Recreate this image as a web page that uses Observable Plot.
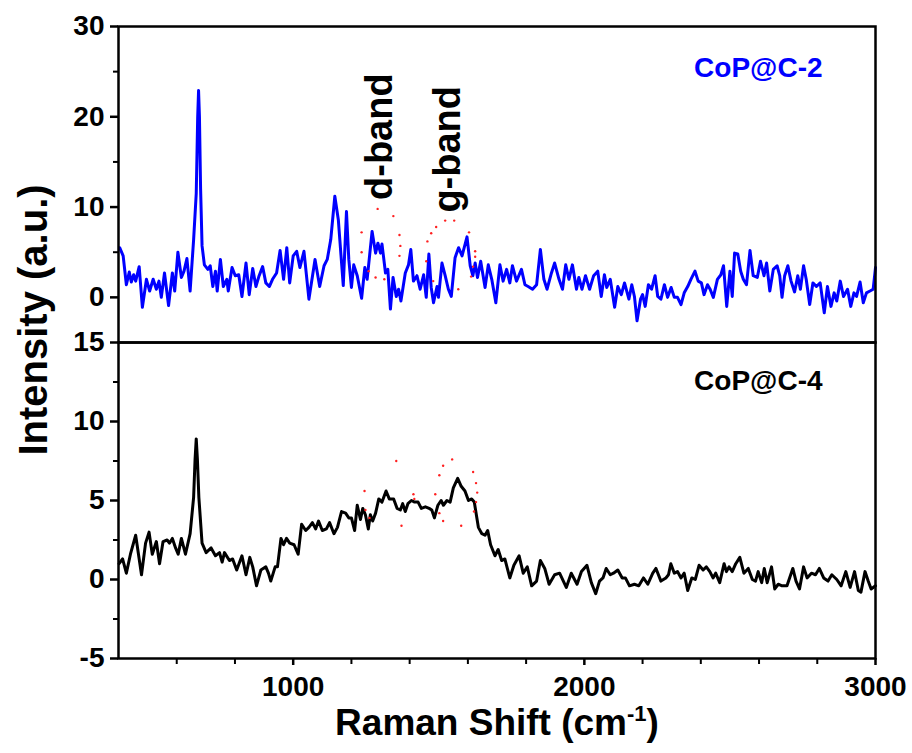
<!DOCTYPE html>
<html>
<head>
<meta charset="utf-8">
<script src="https://cdn.jsdelivr.net/npm/d3@7"></script>
<script src="https://cdn.jsdelivr.net/npm/@observablehq/plot@0.6"></script>
<style>
  html, body { margin: 0; padding: 0; background: white; }
  #wrap { position: relative; width: 912px; height: 753px; overflow: hidden; font-family: "Liberation Sans", Arial, sans-serif; }
  #wrap svg { position: absolute; left: 0; }
</style>
</head>
<body>
<div id="wrap"></div>
<script>
// ---------- Data ----------
const ramanShift2 = [404,416,427,437,444,452,459,471,482,496,507,519,530,539,547,558,572,585,593,604,616,625,635,646,658,667,672,675,678,682,687,695,707,715,724,733,739,750,760,772,777,790,801,813,824,838,849,861,872,883,895,906,918,929,943,955,967,978,988,1000,1012,1023,1037,1054,1075,1091,1106,1117,1129,1143,1155,1172,1183,1191,1200,1208,1220,1235,1246,1254,1271,1283,1291,1300,1305,1317,1325,1334,1343,1354,1362,1370,1385,1396,1404,1413,1425,1436,1448,1457,1466,1474,1482,1494,1499,1511,1522,1533,1543,1556,1568,1580,1597,1608,1617,1625,1633,1644,1659,1670,1682,1696,1710,1721,1733,1744,1753,1767,1784,1796,1807,1822,1836,1849,1861,1872,1887,1898,1913,1925,1936,1947,1959,1973,1981,1992,2004,2018,2032,2046,2058,2069,2077,2089,2104,2115,2127,2138,2153,2163,2172,2181,2193,2200,2209,2220,2231,2243,2252,2263,2275,2286,2298,2309,2320,2332,2343,2355,2366,2380,2391,2402,2411,2423,2432,2443,2457,2469,2478,2489,2500,2508,2516,2527,2537,2546,2557,2569,2580,2594,2605,2617,2626,2637,2649,2662,2671,2679,2688,2699,2710,2722,2733,2742,2753,2762,2774,2785,2797,2810,2824,2835,2847,2858,2867,2879,2890,2904,2915,2926,2935,2947,2958,2969,2981,2992,3000];
const intensity2 = [5.5,4.6,1.4,2.8,1.7,2.5,1.8,3.4,-1.1,2.0,0.7,2.0,0.9,1.8,0.0,2.7,-0.9,2.7,0.7,5.0,2.2,2.9,4.3,0.7,6.4,11.5,20,22.9,20,12,5.7,3.6,3.1,3.5,1.2,2.9,0.7,4.2,1.2,2.0,0.7,3.3,2.4,2.5,0.1,3.8,0.3,3.2,1.2,2.4,3.4,1.6,1.2,2.0,2.7,5.2,2.0,5.5,1.6,4.6,5.1,3.3,5.1,-0.2,4.2,1.2,3.5,4.2,6.4,11.2,8.6,1.3,9.5,4.2,1.1,3.6,2.4,-0.1,3.3,2.0,7.3,4.9,6.0,4.9,5.9,2.7,3.1,-1.3,2.2,0.1,0.9,-0.4,2.7,3.6,5.3,1.8,2.4,0.9,2.5,0.0,4.8,1.1,-0.6,1.2,0.0,3.8,2.4,0.9,0.1,4.4,5.5,4.6,6.7,3.5,2.4,3.8,2.2,4.0,1.1,3.6,2.0,-0.6,3.6,1.8,3.1,1.6,3.5,1.8,3.1,1.4,1.2,0.9,1.4,5.3,2.0,0.9,2.7,3.8,2.0,0.9,3.6,2.0,3.6,0.9,2.2,0.9,2.4,0.9,2.4,2.9,0.1,2.5,1.1,2.0,-1.1,1.2,0.3,1.6,-0.2,1.4,0.1,-2.6,-0.2,0.3,-1.0,1.4,0.9,2.4,0.1,-0.2,1.4,0.0,1.1,0.0,0.0,-0.8,0.5,1.2,2.0,2.9,1.8,1.6,0.3,1.4,0.9,0.0,2.0,2.5,3.5,-1.0,2.9,0.1,4.9,4.8,2.9,2.0,1.4,5.2,2.4,2.2,4.0,2.4,3.8,0.7,3.1,3.5,2.4,0.0,2.4,3.5,1.8,0.6,2.4,0.9,3.5,2.0,-0.8,1.6,1.2,1.6,-1.7,1.2,-1.0,0.5,-0.4,1.8,0.1,0.9,-1.0,0.5,0.1,1.7,-0.6,0.5,0.7,0.9,3.3];

const ramanShift4 = [402,414,427,441,459,479,493,505,516,530,541,553,567,575,585,596,605,616,630,646,658,663,667,671,676,687,701,718,733,747,756,764,781,792,806,824,838,851,861,874,889,906,915,923,938,946,958,967,977,988,1003,1017,1029,1043,1054,1066,1077,1087,1100,1114,1125,1140,1152,1166,1180,1191,1200,1211,1220,1231,1239,1248,1258,1265,1273,1283,1294,1305,1319,1330,1345,1357,1368,1376,1385,1394,1406,1417,1429,1440,1454,1467,1476,1485,1497,1508,1516,1528,1539,1550,1565,1577,1590,1602,1613,1622,1636,1648,1659,1668,1678,1693,1704,1716,1727,1744,1758,1776,1790,1804,1819,1836,1849,1864,1879,1898,1915,1938,1955,1975,1990,2009,2024,2039,2052,2064,2075,2089,2100,2115,2130,2141,2155,2172,2187,2203,2218,2235,2246,2263,2280,2289,2297,2309,2320,2332,2343,2355,2369,2381,2394,2408,2419,2431,2442,2451,2465,2480,2488,2497,2508,2520,2534,2548,2563,2577,2588,2597,2609,2618,2628,2643,2654,2666,2679,2696,2716,2727,2739,2753,2765,2780,2794,2807,2822,2837,2850,2867,2882,2898,2913,2928,2941,2950,2964,2975,2985,3000];
const intensity4 = [1.0,1.3,0.4,1.6,2.8,0.3,2.3,3.0,1.6,2.4,1.0,2.4,2.5,2.3,2.6,2.0,1.6,2.6,1.6,2.9,5.2,7.6,8.9,7.6,5.2,2.3,1.7,2.0,1.5,1.7,1.1,1.7,1.2,1.3,0.6,1.5,0.3,1.4,0.8,-0.4,0.6,0.8,0.4,-0.1,0.8,0.8,2.6,2.2,2.6,2.3,2.2,1.6,3.5,3.1,3.3,3.6,3.2,3.7,3.1,3.2,3.6,2.9,3.3,4.3,4.2,3.9,3.9,3.1,4.7,3.8,4.5,4.1,3.2,4.1,3.7,4.2,5.1,4.9,5.6,5.1,5.1,4.5,4.4,4.8,4.3,4.8,5.0,4.9,4.9,4.5,4.6,4.5,4.4,3.9,4.7,5.0,4.7,5.0,4.9,5.8,6.4,5.9,5.6,5.0,5.1,4.9,3.3,2.9,2.8,3.1,2.2,1.5,1.9,1.2,1.3,0.1,0.9,1.5,0.4,0.8,-0.4,-0.1,1.2,0.7,-0.3,0.3,0.4,-0.5,0.4,-0.3,0.5,0.9,-0.2,-0.9,-0.1,0.1,0.7,0.3,0.4,0.6,0.1,0.1,-0.4,-0.3,-0.4,0.1,-0.3,0.4,0.7,-0.1,0.1,0.3,1.0,0.4,0.5,0.1,0.4,-0.7,0.1,0.0,0.9,0.6,0.8,0.5,0.1,0.4,-0.2,1.0,0.5,0.8,0.5,1.0,1.4,0.4,0.7,0.0,-0.1,0.5,-0.2,0.7,-0.2,0.8,-0.6,-0.3,-0.4,-0.4,0.7,-0.1,-0.6,0.8,0.1,0.4,0.3,0.7,0.1,-0.1,0.3,0.0,-0.4,0.5,-0.5,0.5,-0.7,-0.8,0.5,-0.1,-0.6,-0.4];

// red dotted fit curves (sparse dots)
const fitShift2 = [1235,1235,1259,1283,1290,1313,1344,1365,1368,1365,1457,1461,1474,1491,1522,1553,1604,1567,1625,1625,1618,1611,1481];
const fitValue2 = [7.2,5.0,2.9,2.2,9.8,2.0,9.0,6.9,5.7,4.6,4.0,6.2,7.1,7.8,8.5,8.5,7.2,0.9,5.1,4.5,3.4,2.3,1.8];
const fitShift4 = [1245,1248,1262,1354,1372,1413,1416,1488,1502,1502,1515,1515,1546,1577,1618,1628,1632,1628,1621];
const fitValue4 = [5.6,4.4,3.9,7.5,3.4,5.4,5.1,5.4,6.6,4.2,7.2,3.7,7.6,3.4,6.8,6.1,5.5,4.9,4.3];

const xDomain = [400, 3000];
const xMajorTicks = [1000, 2000, 3000];
const xMinorTicks = [600, 800, 1200, 1400, 1600, 1800, 2200, 2400, 2600, 2800];
const yTopDomain = [-5, 30];
const yTopMajor = [0, 10, 20, 30];
const yTopMinor = [5, 15, 25];
const yBotDomain = [-5, 15];
const yBotMajor = [-5, 0, 5, 10, 15];
const yBotMinor = [-2.5, 2.5, 7.5, 12.5];

const seriesLabels = ["CoP@C-2", "CoP@C-4"];
const bandLabels = [{name: "d-band", x: 1341, y: 17.8}, {name: "g-band", x: 1573, y: 16.4}];
const sampleLabelPos = [{x: 2377, y: 24.4}, {x: 2377, y: 12.0}];

const top2 = ramanShift2.map((x, i) => ({x, y: intensity2[i]}));
const bot4 = ramanShift4.map((x, i) => ({x, y: intensity4[i]}));
const fit2 = fitShift2.map((x, i) => ({x, y: fitValue2[i]}));
const fit4 = fitShift4.map((x, i) => ({x, y: fitValue4[i]}));

const FONT = "'Liberation Sans', Arial, sans-serif";
const BLUE = "#0000ff";
const baseStyle = {background: "transparent", overflow: "visible", fontFamily: FONT};
const plain = d => String(d);

const topPlot = Plot.plot({
  width: 912, height: 343,
  marginTop: 26, marginBottom: 1, marginLeft: 118, marginRight: 37,
  x: {domain: xDomain, axis: null},
  y: {domain: yTopDomain},
  style: baseStyle,
  marks: [
    Plot.axisY({ticks: yTopMajor, tickFormat: plain, tickSize: 8, tickPadding: 6, fontSize: 28, fontWeight: "bold", label: null, strokeWidth: 2.5, fill: "black"}),
    Plot.axisY({ticks: yTopMinor, tickSize: 5, text: null, label: null, strokeWidth: 2}),
    Plot.line(top2, {x: "x", y: "y", stroke: BLUE, strokeWidth: 3, strokeLinejoin: "round"}),
    Plot.dot(fit2, {x: "x", y: "y", r: 1.2, fill: "#ff2020", stroke: null}),
    Plot.text(bandLabels, {x: "x", y: "y", text: "name", rotate: -90, textAnchor: "middle", lineAnchor: "bottom", fontSize: 38, fontWeight: "bold", fill: "black"}),
    Plot.text([sampleLabelPos[0]], {x: "x", y: "y", text: () => seriesLabels[0], textAnchor: "start", lineAnchor: "bottom", fontSize: 28, fontWeight: "bold", fill: BLUE}),
    Plot.frame({stroke: "black", strokeWidth: 2.5})
  ]
});

const botPlot = Plot.plot({
  width: 912, height: 424,
  marginTop: 13, marginBottom: 95, marginLeft: 118, marginRight: 37,
  x: {domain: xDomain},
  y: {domain: yBotDomain},
  style: baseStyle,
  marks: [
    Plot.axisY({ticks: yBotMajor, tickFormat: plain, tickSize: 8, tickPadding: 6, fontSize: 28, fontWeight: "bold", label: null, strokeWidth: 2.5, fill: "black"}),
    Plot.axisY({ticks: yBotMinor, tickSize: 5, text: null, label: null, strokeWidth: 2}),
    Plot.axisX({ticks: xMajorTicks, tickFormat: plain, tickSize: 7, tickPadding: 11, fontSize: 28, fontWeight: "bold", label: null, strokeWidth: 2.5, fill: "black"}),
    Plot.axisX({ticks: xMinorTicks, tickSize: 6, text: null, label: null, strokeWidth: 2}),
    Plot.line(bot4, {x: "x", y: "y", stroke: "black", strokeWidth: 3, strokeLinejoin: "round"}),
    Plot.dot(fit4, {x: "x", y: "y", r: 1.2, fill: "#ff2020", stroke: null}),
    Plot.text([sampleLabelPos[1]], {x: "x", y: "y", text: () => seriesLabels[1], textAnchor: "start", lineAnchor: "bottom", fontSize: 28, fontWeight: "bold", fill: "black"}),
    Plot.frame({stroke: "black", strokeWidth: 2.5})
  ]
});

const wrap = document.getElementById("wrap");
topPlot.style.top = "0px";
botPlot.style.top = "329px";
wrap.appendChild(topPlot);
wrap.appendChild(botPlot);

// y-axis title spanning both panels
d3.select(topPlot).append("text")
  .attr("transform", "translate(47,320) rotate(-90)")
  .attr("text-anchor", "middle")
  .attr("font-family", FONT)
  .attr("font-weight", "bold")
  .attr("font-size", 40)
  .attr("fill", "black")
  .text("Intensity (a.u.)");

// x-axis title with superscript
const xt = d3.select(botPlot).append("text")
  .attr("x", 497).attr("y", 406)
  .attr("text-anchor", "middle")
  .attr("font-family", FONT)
  .attr("font-weight", "bold")
  .attr("font-size", 37)
  .attr("fill", "black");
xt.append("tspan").text("Raman Shift (cm");
xt.append("tspan").attr("font-size", 22).attr("dy", -14).text("-1");
xt.append("tspan").attr("dy", 14).text(")");
</script>
</body>
</html>
